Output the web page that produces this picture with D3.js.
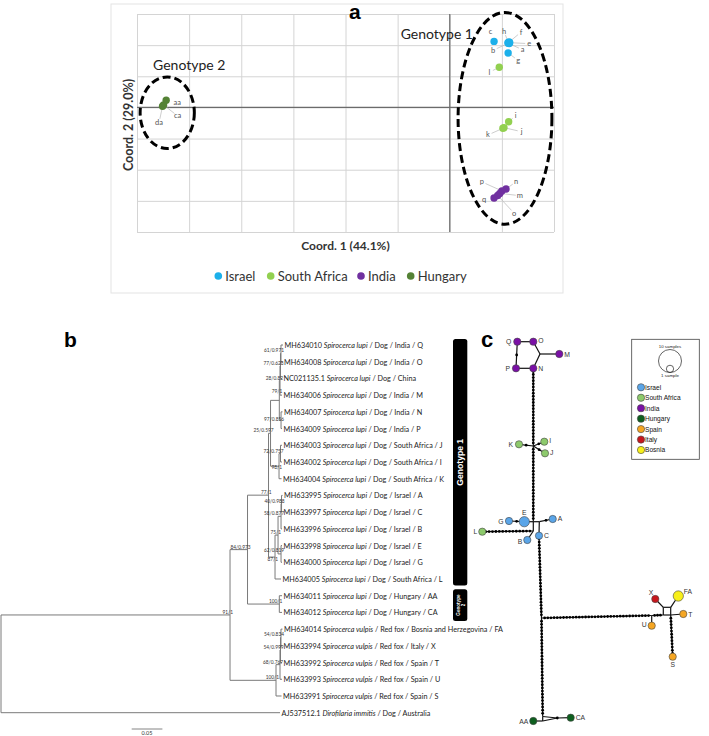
<!DOCTYPE html>
<html>
<head>
<meta charset="utf-8">
<script src="https://cdn.jsdelivr.net/npm/d3@7"></script>
<style>
  body { margin: 0; background: #fff; }
  svg { display: block; }
</style>
</head>
<body>
<div id="chart"></div>
<script>
// ---- Panel a: PCoA ----
const countries = ['Israel', 'South Africa', 'India', 'Hungary']
const countryColors = ['#1cb0ea', '#92d050', '#7030a0', '#548235']

// [sample, coord 1, coord 2, country]
const pcoaPoints = [
  ['c', 0.85, 2.12, 'Israel'],
  ['h', 1.12, 2.09, 'Israel'],
  ['f', 1.14, 2.10, 'Israel'],
  ['e', 1.15, 2.08, 'Israel'],
  ['b', 1.12, 2.06, 'Israel'],
  ['a', 1.14, 2.05, 'Israel'],
  ['g', 1.12, 1.75, 'Israel'],
  ['l', 0.95, 1.29, 'South Africa'],
  ['i', 1.13, -0.46, 'South Africa'],
  ['j', 1.04, -0.65, 'South Africa'],
  ['k', 1.02, -0.67, 'South Africa'],
  ['n', 1.08, -2.62, 'India'],
  ['p', 1.00, -2.68, 'India'],
  ['m', 0.96, -2.76, 'India'],
  ['o', 0.92, -2.83, 'India'],
  ['q', 0.85, -2.91, 'India'],
  ['aa', -5.44, 0.23, 'Hungary'],
  ['ca', -5.49, 0.08, 'Hungary'],
  ['da', -5.51, 0.04, 'Hungary'],
]

// where each sample label sits relative to its point (px) and whether it has a leader line
const pcoaLabelAt = {
  c: [-3.6, -10, false], h: [-4, -11, true], f: [12, -10, true], e: [19.5, 1, true],
  b: [-15, 7, true], a: [13.4, 6.2, true], g: [10, 7.5, true], l: [-10, 5, true],
  i: [7, -6, true], j: [17.6, 4, true], k: [-15, 6.7, true],
  n: [10, -7.3, true], p: [-20, -9, true], m: [20, 2.3, true], o: [16.5, 17.7, true], q: [-10, 1, false],
  aa: [11, 2, false], ca: [14, 11, true], da: [-3.5, 16.6, true],
}

// dashed rings: [title, centre coord 1, centre coord 2, half width, half height]
const genotypeRings = [
  ['Genotype 1', 1.06, -0.35, 0.9, 3.4],
  ['Genotype 2', -5.42, -0.17, 0.52, 1.15],
]
const ringTitleAt = { 'Genotype 1': [-32, -79, 'end'], 'Genotype 2': [22, -43, 'middle'] }

// ---- Panel b: tree ----
// [node, parent, branch length, support]
const treeNodes = [
  ['root', '', 0, ''],
  ['n91', 'root', 0.373, '91/1'],
  ['n84', 'n91', 0.0285, '84/0.973'],
  ['n77', 'n84', 0.0342, '77/1'],
  ['n25', 'n77', 0.0033, '25/0.597'],
  ['nIndia', 'n25', 0.0143, '79/1'],
  ['n28', 'nIndia', 0.0011, '28/0.82'],
  ['nQONC', 'n28', 0.0008, '77/0.628'],
  ['nQO', 'nQONC', 0.0008, '61/0.971'],
  ['Q', 'nQO', 0.0033, ''],
  ['O', 'nQO', 0.0024, ''],
  ['NC', 'nQONC', 0.0024, ''],
  ['M', 'n28', 0.0033, ''],
  ['nNP', 'nIndia', 0.0028, '97/0.856'],
  ['N', 'nNP', 0.0024, ''],
  ['P', 'nNP', 0.0016, ''],
  ['nSA', 'n25', 0.0138, '98/1'],
  ['nJI', 'nSA', 0.0024, '72/0.757'],
  ['J', 'nJI', 0.0024, ''],
  ['I', 'nJI', 0.0024, ''],
  ['K', 'nSA', 0.0041, ''],
  ['n87', 'n77', 0.0106, '87/1'],
  ['n75', 'n87', 0.0049, '75/1'],
  ['nACB', 'n75', 0.0049, '58/0.877'],
  ['nAC', 'nACB', 0.0008, '40/0.988'],
  ['A', 'nAC', 0.0016, ''],
  ['C', 'nAC', 0.0008, ''],
  ['B', 'nACB', 0.0016, ''],
  ['n62', 'n75', 0.0049, '62/0.819'],
  ['E', 'n62', 0.0016, ''],
  ['G', 'n62', 0.0016, ''],
  ['L', 'n87', 0.0098, ''],
  ['nHU', 'n84', 0.0518, '100/1'],
  ['AA', 'nHU', 0.0044, ''],
  ['CA', 'nHU', 0.0044, ''],
  ['nFox', 'n91', 0.0749, '100/1'],
  ['nFAXTU', 'nFox', 0.0065, '68/0.767'],
  ['nFAXT', 'nFAXTU', 0.0008, '54/0.999'],
  ['nFAX', 'nFAXT', 0.0008, '54/0.834'],
  ['FA', 'nFAX', 0.0024, ''],
  ['X', 'nFAX', 0.0016, ''],
  ['T', 'nFAXT', 0.0024, ''],
  ['U', 'nFAXTU', 0.0033, ''],
  ['S', 'nFox', 0.0090, ''],
  ['AJ', 'root', 0.4544, ''],
]

// [tip, accession, species, host, country, sample]
const tipLabels = [
  ['Q', 'MH634010', 'Spirocerca lupi', 'Dog', 'India', 'Q'],
  ['O', 'MH634008', 'Spirocerca lupi', 'Dog', 'India', ' O'],
  ['NC', 'NC021135.1', 'Spirocerca lupi', 'Dog', 'China', ''],
  ['M', 'MH634006', 'Spirocerca lupi', 'Dog', 'India', 'M'],
  ['N', 'MH634007', 'Spirocerca lupi', 'Dog', 'India', 'N'],
  ['P', 'MH634009', 'Spirocerca lupi', 'Dog', 'India', 'P'],
  ['J', 'MH634003', 'Spirocerca lupi', 'Dog', 'South Africa', 'J'],
  ['I', 'MH634002', 'Spirocerca lupi', 'Dog', 'South Africa', 'I'],
  ['K', 'MH634004', 'Spirocerca lupi', 'Dog', 'South Africa', 'K'],
  ['A', 'MH633995', 'Spirocerca lupi', 'Dog', 'Israel', 'A'],
  ['C', 'MH633997', 'Spirocerca lupi', 'Dog', 'Israel', 'C'],
  ['B', 'MH633996', 'Spirocerca lupi', 'Dog', 'Israel', 'B'],
  ['E', 'MH633998', 'Spirocerca lupi', 'Dog', 'Israel', 'E'],
  ['G', 'MH634000', 'Spirocerca lupi', 'Dog', 'Israel', 'G'],
  ['L', 'MH634005', 'Spirocerca lupi', 'Dog', 'South Africa', 'L'],
  ['AA', 'MH634011', 'Spirocerca lupi', 'Dog', 'Hungary', 'AA'],
  ['CA', 'MH634012', 'Spirocerca lupi', 'Dog', 'Hungary', 'CA'],
  ['FA', 'MH634014', 'Spirocerca vulpis', 'Red fox', 'Bosnia and Herzegovina', 'FA'],
  ['X', 'MH633994', 'Spirocerca vulpis', 'Red fox', 'Italy', 'X'],
  ['T', 'MH633992', 'Spirocerca vulpis', 'Red fox', 'Spain', 'T'],
  ['U', 'MH633993', 'Spirocerca vulpis', 'Red fox', 'Spain', 'U'],
  ['S', 'MH633991', 'Spirocerca vulpis', 'Red fox', 'Spain', 'S'],
  ['AJ', 'AJ537512.1', 'Dirofilaria immitis', 'Dog', 'Australia', ''],
]
const scaleBarLength = 0.05

// ---- Panel c: haplotype network ----
const networkGroups = ['Israel', 'South Africa', 'India', 'Hungary', 'Spain', 'Italy', 'Bosnia']
const networkColors = ['#5aa5e8', '#8dca6c', '#7a10a6', '#0d5f1e', '#f5a623', '#c8161d', '#f7ef1a']

// [haplotype, x, y, group, samples] - positions as laid out in the network drawing
const haplotypes = [
  ['Q', 47.3, 6.7, 'India', 1],
  ['O', 63.3, 6.7, 'India', 1],
  ['P', 46, 33.3, 'India', 1],
  ['N', 63.3, 33.3, 'India', 1],
  ['M', 89.3, 19, 'India', 1],
  ['K', 49, 109.3, 'South Africa', 1],
  ['I', 74.3, 106.7, 'South Africa', 1],
  ['J', 75, 118.3, 'South Africa', 1],
  ['E', 54.3, 186.7, 'Israel', 2],
  ['G', 39, 186, 'Israel', 1],
  ['A', 82.7, 184, 'Israel', 1],
  ['B', 57.3, 205, 'Israel', 1],
  ['C', 69, 200.7, 'Israel', 1],
  ['L', 12.3, 196.7, 'South Africa', 1],
  ['AA', 63.3, 386, 'Hungary', 1],
  ['CA', 100.7, 382.7, 'Hungary', 1],
  ['X', 185.3, 264, 'Italy', 1],
  ['FA', 208.3, 261, 'Bosnia', 2],
  ['T', 213.3, 279, 'Spain', 1],
  ['U', 181.7, 290.7, 'Spain', 1],
  ['S', 202.7, 321.7, 'Spain', 1],
]
// inferred branch points of the network: [vertex, x, y]
const vertices = [
  ['v1', 70, 19], ['v2', 63.3, 111], ['v3', 63.3, 186.7], ['v4', 69.3, 186.7],
  ['v5', 63.3, 196], ['v6', 71.5, 283], ['v7', 72.7, 381.5], ['v8', 72.7, 386],
  ['v9', 87.3, 383], ['v10', 181.7, 280.5], ['v11', 193.3, 280], ['v12', 200.7, 280],
  ['v13', 193.3, 272.3], ['v14', 200.7, 272.3],
]
// [from, to, mutation steps]
const networkLinks = [
  ['Q', 'O', 0], ['Q', 'P', 1], ['P', 'N', 0], ['O', 'v1', 0], ['N', 'v1', 0], ['v1', 'M', 0],
  ['N', 'v2', 24], ['v2', 'K', 1], ['v2', 'I', 1], ['v2', 'J', 1],
  ['v2', 'v3', 23], ['v3', 'E', 0], ['G', 'E', 1], ['v3', 'v4', 0], ['v4', 'A', 1],
  ['v3', 'v5', 0], ['v5', 'B', 0], ['v5', 'L', 14], ['v4', 'C', 0],
  ['C', 'v6', 25], ['v6', 'v7', 30], ['v7', 'v8', 0], ['v8', 'AA', 0],
  ['v7', 'v9', 0], ['v8', 'v9', 0], ['v9', 'CA', 0],
  ['v6', 'v10', 34], ['v10', 'U', 0], ['v10', 'v11', 3],
  ['v11', 'v12', 0], ['v11', 'v13', 0], ['v13', 'v14', 0], ['v14', 'v12', 0],
  ['v13', 'X', 0], ['v14', 'FA', 0], ['v12', 'T', 0], ['v12', 'S', 12],
]
const sampleKey = [10, 1]

function draw() {
  const svg = d3.select('#chart')
    .append('svg')
    .attr('width', 709)
    .attr('height', 736)

  // ================= a =================
  const plot = { left: 137, right: 554, top: 14, bottom: 232 }
  const xScale = d3.scaleLinear().domain([-6, 2]).range([plot.left, plot.right])
  const yScale = d3.scaleLinear().domain([-4, 3]).range([plot.bottom, plot.top])
  const colorScale = d3.scaleOrdinal().domain(countries).range(countryColors)

  const a = svg.append('g').style('font-family', 'Lato, sans-serif')

  a.append('rect')
    .attr('x', 111).attr('y', 4).attr('width', 452).attr('height', 289)
    .attr('fill', 'none').attr('stroke', '#e3e3e3')

  // gridlines from the axes
  const xGrid = a.append('g')
    .attr('transform', `translate(0, ${plot.bottom})`)
    .call(d3.axisBottom(xScale).ticks(8).tickSize(-(plot.bottom - plot.top)).tickFormat(''))
  const yGrid = a.append('g')
    .attr('transform', `translate(${plot.left}, 0)`)
    .call(d3.axisLeft(yScale).ticks(7).tickSize(-(plot.right - plot.left)).tickFormat(''))
  ;[xGrid, yGrid].forEach(g => {
    g.select('.domain').remove()
    g.selectAll('line').attr('stroke', '#d4d4d4').attr('stroke-width', 1)
  })

  a.append('line')
    .attr('x1', xScale(0)).attr('x2', xScale(0))
    .attr('y1', plot.top).attr('y2', plot.bottom)
    .attr('stroke', '#6b6b6b').attr('stroke-width', 1.2)
  a.append('line')
    .attr('x1', plot.left).attr('x2', plot.right)
    .attr('y1', yScale(0)).attr('y2', yScale(0))
    .attr('stroke', '#6b6b6b').attr('stroke-width', 1.2)

  // leader lines
  pcoaPoints.forEach(([name, cx, cy]) => {
    const [dx, dy, leader] = pcoaLabelAt[name]
    const px = xScale(cx), py = yScale(cy)
    if (leader) {
      const len = Math.hypot(dx, dy), k = (len - 4) / len
      a.append('line')
        .attr('x1', px).attr('y1', py)
        .attr('x2', px + dx * k).attr('y2', py + dy * k)
        .attr('stroke', '#b8b8b8').attr('stroke-width', 0.7)
    }
  })

  a.append('g').selectAll('circle')
    .data(pcoaPoints)
    .join('circle')
    .attr('cx', d => xScale(d[1]))
    .attr('cy', d => yScale(d[2]))
    .attr('r', 3.7)
    .attr('fill', d => colorScale(d[3]))

  a.append('g').selectAll('text')
    .data(pcoaPoints)
    .join('text')
    .attr('x', d => xScale(d[1]) + pcoaLabelAt[d[0]][0])
    .attr('y', d => yScale(d[2]) + pcoaLabelAt[d[0]][1])
    .attr('text-anchor', 'middle')
    .attr('dominant-baseline', 'central')
    .attr('font-size', 7.5)
    .attr('fill', '#555')
    .text(d => d[0])

  // genotype rings
  genotypeRings.forEach(([title, cx, cy, rx, ry]) => {
    const px = xScale(cx), py = yScale(cy)
    a.append('ellipse')
      .attr('cx', px).attr('cy', py)
      .attr('rx', xScale(cx + rx) - px)
      .attr('ry', py - yScale(cy + ry))
      .attr('fill', 'none')
      .attr('stroke', '#000')
      .attr('stroke-width', 3)
      .attr('stroke-dasharray', '8 4')
    const [tx, ty, anchor] = ringTitleAt[title]
    a.append('text')
      .attr('x', px + tx).attr('y', py + ty)
      .attr('text-anchor', anchor)
      .attr('font-size', 14)
      .attr('fill', '#222')
      .text(title)
  })

  // axis titles
  a.append('text')
    .attr('x', (plot.left + plot.right) / 2).attr('y', 250)
    .attr('text-anchor', 'middle')
    .attr('font-size', 12).attr('font-weight', 'bold').attr('fill', '#333')
    .text('Coord. 1 (44.1%)')
  a.append('text')
    .attr('transform', `translate(133, ${(plot.top + plot.bottom) / 2 + 2}) rotate(-90)`)
    .attr('text-anchor', 'middle')
    .attr('font-size', 12.5).attr('font-weight', 'bold').attr('fill', '#333')
    .text('Coord. 2 (29.0%)')

  // legend
  const legendX = [218.3, 270.7, 361, 410.7]
  const legend = a.append('g').selectAll('g')
    .data(countries)
    .join('g')
    .attr('transform', (d, i) => `translate(${legendX[i]}, 276)`)
  legend.append('circle').attr('r', 3.8).attr('fill', d => colorScale(d))
  legend.append('text')
    .attr('x', 7).attr('y', 4.6)
    .attr('font-size', 13).attr('fill', '#333')
    .text(d => d)

  svg.append('text')
    .attr('x', 349).attr('y', 19)
    .attr('font-family', 'Arial, Liberation Sans, sans-serif')
    .attr('font-size', 21).attr('font-weight', 'bold')
    .text('a')

  // ================= b =================
  const b = svg.append('g').style('font-family', 'Lato, sans-serif')
  const root = d3.stratify()
    .id(d => d[0])
    .parentId(d => d[1] || null)(treeNodes)
  root.eachBefore(n => { n.dist = n.parent ? n.parent.dist + n.data[2] : 0 })

  const xTree = d3.scaleLinear().domain([0, 1]).range([1, 615])
  const tipY = d3.scalePoint()
    .domain(root.leaves().map(d => d.id))
    .range([345, 712.7])
  root.eachAfter(n => {
    n.py = n.children
      ? (n.children[0].py + n.children[n.children.length - 1].py) / 2
      : tipY(n.id)
    n.px = xTree(n.dist)
  })

  const branches = b.append('g')
    .attr('stroke', '#7a7a7a').attr('stroke-width', 1).attr('fill', 'none')
  root.descendants().forEach(n => {
    if (n.parent) {
      branches.append('line')
        .attr('x1', n.parent.px).attr('x2', n.px)
        .attr('y1', n.py).attr('y2', n.py)
    }
    if (n.children) {
      branches.append('line')
        .attr('x1', n.px).attr('x2', n.px)
        .attr('y1', n.children[0].py)
        .attr('y2', n.children[n.children.length - 1].py)
    }
  })

  // support values sit just left of their node; a few drop below it
  const supportDy = { n87: 4.5, nSA: 4, nIndia: -6, nNP: 2, n62: -1 }
  b.append('g').selectAll('text')
    .data(root.descendants().filter(n => n.data[3]))
    .join('text')
    .attr('x', n => n.px + 3)
    .attr('y', n => n.py - 1 + (supportDy[n.id] || 0))
    .attr('text-anchor', 'end')
    .attr('font-size', 4.8)
    .attr('fill', '#333')
    .text(n => n.data[3])

  const barX = 453
  const tipById = new Map(root.leaves().map(n => [n.id, n]))
  const tipText = b.append('g').selectAll('text')
    .data(tipLabels)
    .join('text')
    .attr('x', d => tipById.get(d[0]).px + 1.5)
    .attr('y', d => tipById.get(d[0]).py)
    .attr('dominant-baseline', 'central')
    .attr('font-size', 8)
    .attr('fill', '#222')
  tipText.append('tspan').text(d => d[1] + ' ')
  tipText.append('tspan').attr('font-style', 'italic').text(d => d[2])
  tipText.append('tspan').text(d => ` / ${d[3]} / ${d[4]}` + (d[5] ? ` / ${d[5].trim()}` : ''))

  // shrink the tip labels so that the genotype 1 rows stop short of the bar
  const g1Ends = tipText.filter((d, i) => i <= tipLabels.findIndex(t => t[0] === 'L'))
    .nodes().map(el => el.getBBox().x + el.getBBox().width)
  const widest = d3.max(g1Ends)
  const tipStart = tipById.get('Q').px + 1.5
  const tipSize = 8 * (barX - 8 - tipStart) / (widest - tipStart)
  tipText.attr('font-size', Math.min(8.4, tipSize))

  // genotype bars
  const bars = [
    ['Genotype 1', tipY('Q') - 6, tipY('L') + 6.5],
    ['Genotype 2', tipY('AA') - 6.5, tipY('CA') + 8.5],
  ]
  bars.forEach(([label, y0, y1], i) => {
    b.append('rect')
      .attr('x', barX).attr('y', y0)
      .attr('width', 14.3).attr('height', y1 - y0)
      .attr('rx', 2.5)
      .attr('fill', '#000')
    const t = b.append('text')
      .attr('transform', `translate(${barX + 7.2}, ${(y0 + y1) / 2}) rotate(-90)`)
      .attr('text-anchor', 'middle')
      .attr('fill', '#fff')
      .attr('font-family', 'Arial, Liberation Sans, sans-serif')
      .attr('font-weight', 'bold')
    if (i === 0) {
      t.attr('font-size', 8.6).attr('dy', 3).text(label)
    } else {
      const parts = label.split(' ')
      t.attr('font-size', 4.6)
      t.append('tspan').attr('x', 0).attr('y', -0.6).text(parts[0])
      t.append('tspan').attr('x', 0).attr('y', 5).text(parts[1])
    }
  })

  // scale bar
  b.append('line')
    .attr('x1', 131.7).attr('x2', 131.7 + xTree(scaleBarLength) - xTree(0))
    .attr('y1', 729).attr('y2', 729)
    .attr('stroke', '#666').attr('stroke-width', 0.8)
  b.append('text')
    .attr('x', 131.7 + (xTree(scaleBarLength) - xTree(0)) / 2).attr('y', 734.5)
    .attr('text-anchor', 'middle')
    .attr('font-size', 5.5).attr('fill', '#333')
    .text(scaleBarLength)

  svg.append('text')
    .attr('x', 64).attr('y', 347)
    .attr('font-family', 'Arial, Liberation Sans, sans-serif')
    .attr('font-size', 21).attr('font-weight', 'bold')
    .text('b')

  // ================= c =================
  const c = svg.append('g').style('font-family', 'Arial, Liberation Sans, sans-serif')
  const nx = d3.scaleLinear().domain([0, 230]).range([470, 700])
  const ny = d3.scaleLinear().domain([0, 400]).range([335, 735])
  const rScale = d3.scaleSqrt().domain([0, 10]).range([0, 11.5])
  const groupColor = d3.scaleOrdinal().domain(networkGroups).range(networkColors)

  const pos = new Map()
  haplotypes.forEach(d => pos.set(d[0], [nx(d[1]), ny(d[2])]))
  vertices.forEach(d => pos.set(d[0], [nx(d[1]), ny(d[2])]))

  c.append('g').selectAll('line')
    .data(networkLinks)
    .join('line')
    .attr('x1', d => pos.get(d[0])[0]).attr('y1', d => pos.get(d[0])[1])
    .attr('x2', d => pos.get(d[1])[0]).attr('y2', d => pos.get(d[1])[1])
    .attr('stroke', '#111').attr('stroke-width', 1.2)

  // one dot per mutation step
  const steps = networkLinks.flatMap(([s, t, n]) => {
    const p = pos.get(s), q = pos.get(t)
    return d3.range(1, n + 1).map(k => [
      p[0] + (q[0] - p[0]) * k / (n + 1),
      p[1] + (q[1] - p[1]) * k / (n + 1),
    ])
  })
  c.append('g').selectAll('circle')
    .data(steps)
    .join('circle')
    .attr('cx', d => d[0]).attr('cy', d => d[1])
    .attr('r', 1.4)
    .attr('fill', '#000')
  c.append('circle')
    .attr('cx', pos.get('v9')[0]).attr('cy', pos.get('v9')[1])
    .attr('r', 1.4).attr('fill', '#000')

  c.append('g').selectAll('circle')
    .data(haplotypes)
    .join('circle')
    .attr('cx', d => pos.get(d[0])[0])
    .attr('cy', d => pos.get(d[0])[1])
    .attr('r', d => rScale(d[4]))
    .attr('fill', d => groupColor(d[3]))
    .attr('stroke', '#444').attr('stroke-width', 0.6)

  // haplotype names: [dx, dy, anchor]
  const nameAt = {
    Q: [-6, 0, 'end'], O: [5, -1, 'start'], P: [-6, 0, 'end'], N: [5, 0, 'start'], M: [5, 0, 'start'],
    K: [-6, 0, 'end'], I: [5, -1.5, 'start'], J: [5, -0.5, 'start'],
    E: [0, -9.5, 'middle'], G: [-5.5, 0, 'end'], A: [5, -0.5, 'start'], B: [-5, 1, 'end'], C: [5, 0, 'start'],
    L: [-5, 0, 'end'], AA: [-5, 0, 'end'], CA: [5, 0, 'start'],
    X: [-2, -7, 'end'], FA: [5.5, -4.5, 'start'], T: [5, 0, 'start'], U: [-5, -1.5, 'end'], S: [0, 7.5, 'middle'],
  }
  c.append('g').selectAll('text')
    .data(haplotypes)
    .join('text')
    .attr('x', d => pos.get(d[0])[0] + nameAt[d[0]][0])
    .attr('y', d => pos.get(d[0])[1] + nameAt[d[0]][1])
    .attr('text-anchor', d => nameAt[d[0]][2])
    .attr('dominant-baseline', 'central')
    .attr('font-size', 6.8)
    .attr('fill', '#333')
    .text(d => d[0])

  // network legend
  c.append('rect')
    .attr('x', 631.7).attr('y', 339.3).attr('width', 67.6).attr('height', 120)
    .attr('fill', '#fff').attr('stroke', '#444').attr('stroke-width', 0.8)
  const keyBase = 372.5
  sampleKey.forEach(n => {
    c.append('circle')
      .attr('cx', 670).attr('cy', keyBase - rScale(n))
      .attr('r', rScale(n))
      .attr('fill', 'none').attr('stroke', '#222').attr('stroke-width', 0.7)
  })
  c.append('text').attr('x', 670).attr('y', 347.5).attr('text-anchor', 'middle')
    .attr('font-size', 4.4).attr('fill', '#222').text(`${sampleKey[0]} samples`)
  c.append('text').attr('x', 670).attr('y', 376.5).attr('text-anchor', 'middle')
    .attr('font-size', 4.4).attr('fill', '#222').text(`${sampleKey[1]} sample`)

  const keyItems = c.append('g').selectAll('g')
    .data(networkGroups)
    .join('g')
    .attr('transform', (d, i) => `translate(641, ${387.3 + i * 10.45})`)
  keyItems.append('circle')
    .attr('r', rScale(1))
    .attr('fill', d => groupColor(d))
    .attr('stroke', '#444').attr('stroke-width', 0.6)
  keyItems.append('text')
    .attr('x', 4).attr('y', 2.4)
    .attr('font-size', 6.6).attr('fill', '#111')
    .text(d => d)

  svg.append('text')
    .attr('x', 481).attr('y', 347)
    .attr('font-family', 'Arial, Liberation Sans, sans-serif')
    .attr('font-size', 22).attr('font-weight', 'bold')
    .text('c')
}

draw()
</script>
</body>
</html>
